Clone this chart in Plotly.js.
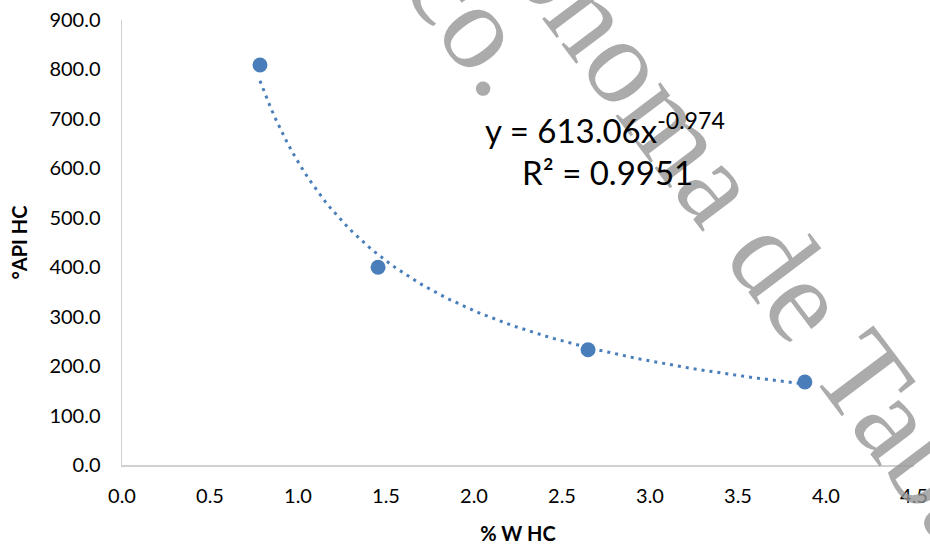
<!DOCTYPE html>
<html>
<head>
<meta charset="utf-8">
<script src="https://cdn.plot.ly/plotly-3.0.1.min.js"></script>
<style>html,body{margin:0;padding:0;background:#fff;}#chart{width:930px;height:545px;}</style>
</head>
<body>
<div id="chart"></div>
<script>
// Data
const wHC = [0.784, 1.455, 2.648, 3.88];      // % W HC
const apiHC = [809, 400, 233, 168];           // °API HC
// Trendline coefficients as printed on the chart (power fit)
const trendA = 613.06;
const trendB = -0.974;
const xTicks = [0, 0.5, 1, 1.5, 2, 2.5, 3, 3.5, 4, 4.5];
const yTicks = [0, 100, 200, 300, 400, 500, 600, 700, 800, 900];

const blue = '#4a7ebb';
const tx = [], ty = [];
const x0 = Math.min(...wHC), x1 = Math.max(...wHC);
for (let i = 0; i <= 100; i++) {
  const x = x0 + (x1 - x0) * i / 100;
  tx.push(x); ty.push(trendA * Math.pow(x, trendB));
}

const traces = [
  {x: tx, y: ty, mode: 'lines', type: 'scatter', hoverinfo: 'skip',
   line: {color: blue, width: 3, dash: '3px,5px'}, showlegend: false},
  {x: wHC, y: apiHC, mode: 'markers', type: 'scatter',
   marker: {color: blue, size: 15}, showlegend: false}
];

const font = 'Lato, "Open Sans", sans-serif';
const wm = {family: '"Liberation Serif", serif', size: 122, color: 'rgba(150,150,150,0.8)'};
function px(x) { return (x - 122) / 792; }
function py(y) { return (465 - y) / 445; }
const layout = {
  width: 930, height: 545,
  margin: {l: 122, r: 16, t: 20, b: 80},
  paper_bgcolor: '#fff', plot_bgcolor: '#fff',
  font: {family: font, color: '#000', size: 20},
  xaxis: {
    range: [0, 4.5], tickvals: xTicks, tickformat: '.1f',
    showgrid: false, zeroline: false, showline: true, linecolor: '#d0d0d0', linewidth: 1.5,
    ticks: 'outside', ticklen: 12, tickcolor: 'rgba(0,0,0,0)',
    tickfont: {family: font, size: 20},
    title: {text: '<b>% W HC</b>', font: {family: font, size: 20}, standoff: 25},
    automargin: false, fixedrange: true
  },
  yaxis: {
    range: [0, 900], tickvals: yTicks, tickformat: '.1f',
    showgrid: false, zeroline: false, showline: true, linecolor: '#d0d0d0', linewidth: 1.5,
    ticks: 'outside', ticklen: 16, tickcolor: 'rgba(0,0,0,0)',
    tickfont: {family: font, size: 20},
    title: {text: '<b>°API HC</b>', font: {family: font, size: 20}, standoff: 16},
    automargin: false, fixedrange: true
  },
  annotations: [
    {xref: 'paper', yref: 'paper', x: px(754), y: py(230), xanchor: 'center', yanchor: 'middle',
     text: 'Autónoma de Tabasco', showarrow: false, textangle: 53, font: wm},
    {xref: 'paper', yref: 'paper', x: px(399), y: py(-82), xanchor: 'center', yanchor: 'middle',
     text: 'México.', showarrow: false, textangle: 53, font: wm},
    {xref: 'paper', yref: 'paper', x: px(605), y: py(128), xanchor: 'center', yanchor: 'middle',
     text: 'y = 613.06x<sup>-0.974</sup>', showarrow: false,
     font: {family: font, size: 33, color: '#000'}},
    {xref: 'paper', yref: 'paper', x: px(607), y: py(172), xanchor: 'center', yanchor: 'middle',
     text: 'R² = 0.9951', showarrow: false,
     font: {family: font, size: 33, color: '#000'}}
  ]
};

Plotly.newPlot('chart', traces, layout, {staticPlot: true, displayModeBar: false});
</script>
</body>
</html>
